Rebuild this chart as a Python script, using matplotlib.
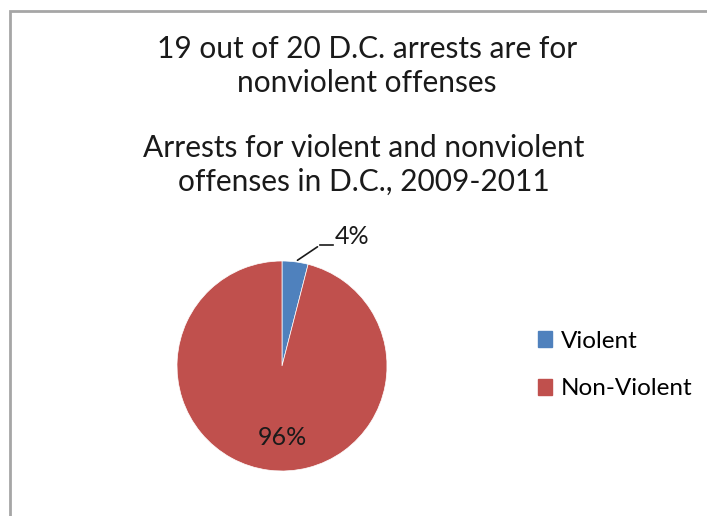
import numpy as np
import matplotlib.pyplot as plt
from matplotlib.patches import Rectangle

# data
categories = ['Violent', 'Non-Violent']
shares = [4, 96]
colors = ['#4F81BD', '#C0504D']
title_main = '19 out of 20 D.C. arrests are for\nnonviolent offenses'
title_sub = 'Arrests for violent and nonviolent\noffenses in D.C., 2009-2011'

plt.rcParams['font.family'] = ['Lato', 'DejaVu Sans']

W, H = 707, 516
fig = plt.figure(figsize=(W / 100, H / 100), dpi=100)

# chart frame (continues past the right and bottom edges)
fig.patches.append(Rectangle((10 / W, -0.1), 1.2, 1 - 11 / H + 0.1, transform=fig.transFigure,
                             fill=False, edgecolor='#A6A6A6', linewidth=2))

fig.text(367 / W, 1 - 66 / H, title_main, ha='center', va='center', fontsize=21.5,
         color='#1a1a1a', linespacing=1.22)
fig.text(364 / W, 1 - 165 / H, title_sub, ha='center', va='center', fontsize=21.5,
         color='#1a1a1a', linespacing=1.22)

# pie
cx, cy, r = 282, 366, 105
ax = fig.add_axes([(cx - r) / W, (H - cy - r) / H, 2 * r / W, 2 * r / H])
wedges, _ = ax.pie(shares, colors=colors, startangle=90, counterclock=False,
                   wedgeprops=dict(linewidth=0.5, edgecolor='white'))
ax.set_xlim(-1, 1)
ax.set_ylim(-1, 1)
ax.set_aspect('equal')
ax.axis('off')

# labels
for w, val in zip(wedges, shares):
    mid = np.deg2rad((w.theta1 + w.theta2) / 2)
    x, y = np.cos(mid), np.sin(mid)
    if val < 10:
        ax.annotate('', xy=(x, y), xytext=(0.36, 1.15),
                    arrowprops=dict(arrowstyle='-', color='#1a1a1a', lw=1.2))
        ax.plot([0.36, 0.49], [1.15, 1.15], color='#1a1a1a', lw=1.2, clip_on=False)
        ax.text(0.5, 1.23, f'{val}%', ha='left', va='center', fontsize=18, color='#1a1a1a')
    else:
        ax.text(0, -0.68, f'{val}%', ha='center', va='center', fontsize=18, color='#1a1a1a')

# legend
handles = [Rectangle((0, 0), 1, 1, color=c) for c in colors]
fig.legend(handles, categories, loc='center left', bbox_to_anchor=(516 / W, 1 - 365 / H),
           frameon=False, fontsize=17.5, handlelength=0.6, handleheight=0.6,
           handletextpad=0.35, labelspacing=1.1)

fig.savefig('out.png', dpi=100)
